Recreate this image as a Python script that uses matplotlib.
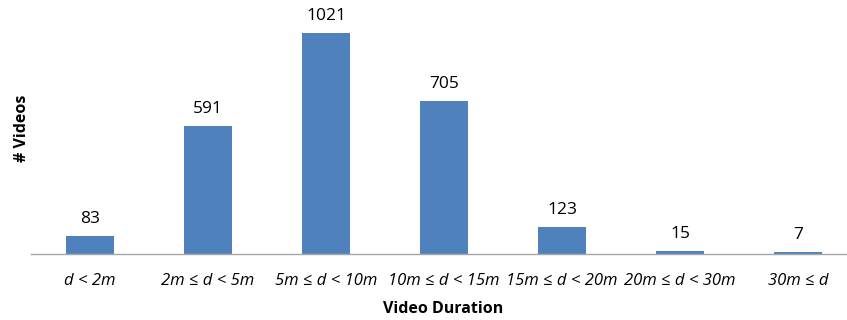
import matplotlib
matplotlib.use("Agg")
import matplotlib.pyplot as plt

categories = ["d < 2m", "2m ≤ d < 5m", "5m ≤ d < 10m", "10m ≤ d < 15m",
              "15m ≤ d < 20m", "20m ≤ d < 30m", "30m ≤ d"]
values = [83, 591, 1021, 705, 123, 15, 7]

plt.rcParams['font.family'] = ['Open Sans', 'DejaVu Sans']

fig = plt.figure(figsize=(8.47, 3.2), dpi=100)
W, H = 847, 320
left, right, top, bottom = 31, 847, 10, 254
ax = fig.add_axes([left / W, 1 - bottom / H, (right - left) / W, (bottom - top) / H])

x = list(range(len(categories)))
ax.bar(x, values, width=0.4, color="#4F81BD", zorder=2)
for xi, v in zip(x, values):
    ax.annotate(str(v), (xi, v), xytext=(0, 6.5), textcoords="offset points",
                ha="center", va="bottom", fontsize=12.5, color="#000000")

ax.set_xlim(-0.5, -0.5 + (right - left) / 118)
ax.set_ylim(0, 1021 * 244 / 221)
for s in ["top", "right", "left"]:
    ax.spines[s].set_visible(False)
ax.spines["bottom"].set_color("#A6A6A6")
ax.spines["bottom"].set_linewidth(1.0)
ax.set_yticks([])
ax.set_xticks(x)
ax.set_xticklabels(categories, fontstyle="italic", fontsize=12)
ax.tick_params(axis="x", length=0, pad=13.5)
ax.set_xlabel("Video Duration", fontweight="bold", fontsize=11.5)
ax.xaxis.set_label_coords((443 - left) / (right - left), -(301 - bottom) / (bottom - top))
ax.set_ylabel("# Videos", fontweight="bold", fontsize=11.5)
ax.yaxis.set_label_coords(-(left - 30) / (right - left), (bottom - 128) / (bottom - top))

fig.savefig("out.png", dpi=100)
